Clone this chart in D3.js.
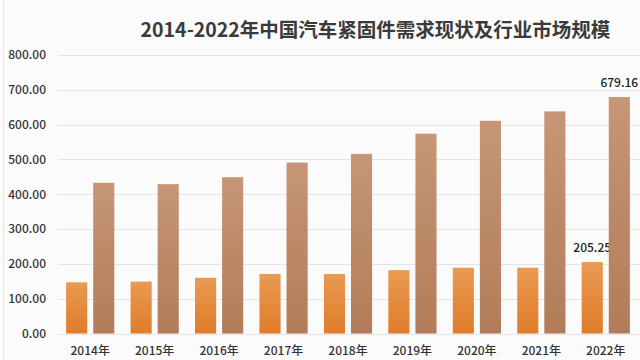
<!DOCTYPE html>
<html><head><meta charset="utf-8">
<script src="https://cdn.jsdelivr.net/npm/d3@7/dist/d3.min.js"></script>
<style>
html,body{margin:0;padding:0;background:#fbfbfc;}
svg{display:block;font-family:"Noto Sans CJK SC","Noto Sans",sans-serif;}
</style></head>
<body>
<svg id="chart" width="640" height="360"></svg>
<script>
const title = "2014-2022年中国汽车紧固件需求现状及行业市场规模";
const categories = ["2014年","2015年","2016年","2017年","2018年","2019年","2020年","2021年","2022年"];
const demand = [147, 149, 160, 171, 171, 182, 189, 189, 205.25];
const market = [433, 429, 449, 491, 516, 574, 611, 638, 679.16];
const yTicks = [0, 100, 200, 300, 400, 500, 600, 700, 800];
const labelled = {demand: [8], market: [8]};

const svg = d3.select("#chart");
const defs = svg.append("defs");
const g1 = defs.append("linearGradient").attr("id","gOrange").attr("x1",0).attr("y1",0).attr("x2",0).attr("y2",1);
g1.append("stop").attr("offset","0%").attr("stop-color","#e99a52");
g1.append("stop").attr("offset","100%").attr("stop-color","#e07c2a");
const g2 = defs.append("linearGradient").attr("id","gBrown").attr("x1",0).attr("y1",0).attr("x2",0).attr("y2",1);
g2.append("stop").attr("offset","0%").attr("stop-color","#c69676");
g2.append("stop").attr("offset","100%").attr("stop-color","#b27c58");

svg.append("rect").attr("width",640).attr("height",360).attr("fill","#fbfbfc");
svg.append("line").attr("x1",3.5).attr("x2",3.5).attr("y1",0).attr("y2",360).attr("stroke","#e6e6e6");

const x = d3.scaleBand().domain(categories).range([58, 638]).paddingInner(0).paddingOuter(0);
const y = d3.scaleLinear().domain([0, 800]).range([333.5, 55]);

// gridlines
svg.append("g").selectAll("line").data(yTicks).join("line")
  .attr("x1", 58).attr("x2", 640)
  .attr("y1", d => Math.round(y(d)) + 0.5).attr("y2", d => Math.round(y(d)) + 0.5)
  .attr("stroke", "#e2e4e8").attr("stroke-width", 1);

// y axis labels
const yAxis = d3.axisLeft(y).tickValues(yTicks).tickFormat(d3.format(".2f")).tickSize(0).tickPadding(0);
const ya = svg.append("g").attr("transform","translate(46,0)").call(yAxis);
ya.select(".domain").remove();
ya.selectAll("text").attr("font-size", 12).attr("font-weight", 500).attr("fill", "#333").attr("font-family", "\"Noto Sans CJK SC\",sans-serif");

// x axis labels
const xAxis = d3.axisBottom(x).tickSize(0).tickPadding(0);
const xa = svg.append("g").attr("transform","translate(0,346)").call(xAxis);
xa.select(".domain").remove();
xa.selectAll("text").attr("font-size", 12).attr("font-weight", 500).attr("fill", "#333").attr("font-family", "\"Noto Sans CJK SC\",sans-serif");

const inner = d3.scaleBand().domain(["demand","market"]).range([0, x.bandwidth()]).paddingInner(0.22).paddingOuter(0.3);

const series = [
  {key:"demand", values: demand, fill:"url(#gOrange)"},
  {key:"market", values: market, fill:"url(#gBrown)"}
];
series.forEach(s => {
  svg.append("g").selectAll("rect").data(s.values).join("rect")
    .attr("x", (d,i) => x(categories[i]) + inner(s.key))
    .attr("width", inner.bandwidth())
    .attr("y", d => y(d))
    .attr("height", d => y(0) - y(d))
    .attr("fill", s.fill);
  svg.append("g").selectAll("text").data(labelled[s.key]).join("text")
    .attr("x", i => x(categories[i]) + inner(s.key) + inner.bandwidth()/2)
    .attr("y", i => y(s.values[i]) - 10)
    .attr("text-anchor","middle")
    .attr("font-size", 12).attr("font-weight", 500).attr("fill","#222")
    .text(i => s.values[i].toFixed(2));
});

svg.append("text").attr("x", 375.5).attr("y", 37).attr("text-anchor","middle")
  .attr("font-size", 19.5).attr("font-weight", 600).attr("fill","#3a3a3a").text(title);
</script>
</body></html>
